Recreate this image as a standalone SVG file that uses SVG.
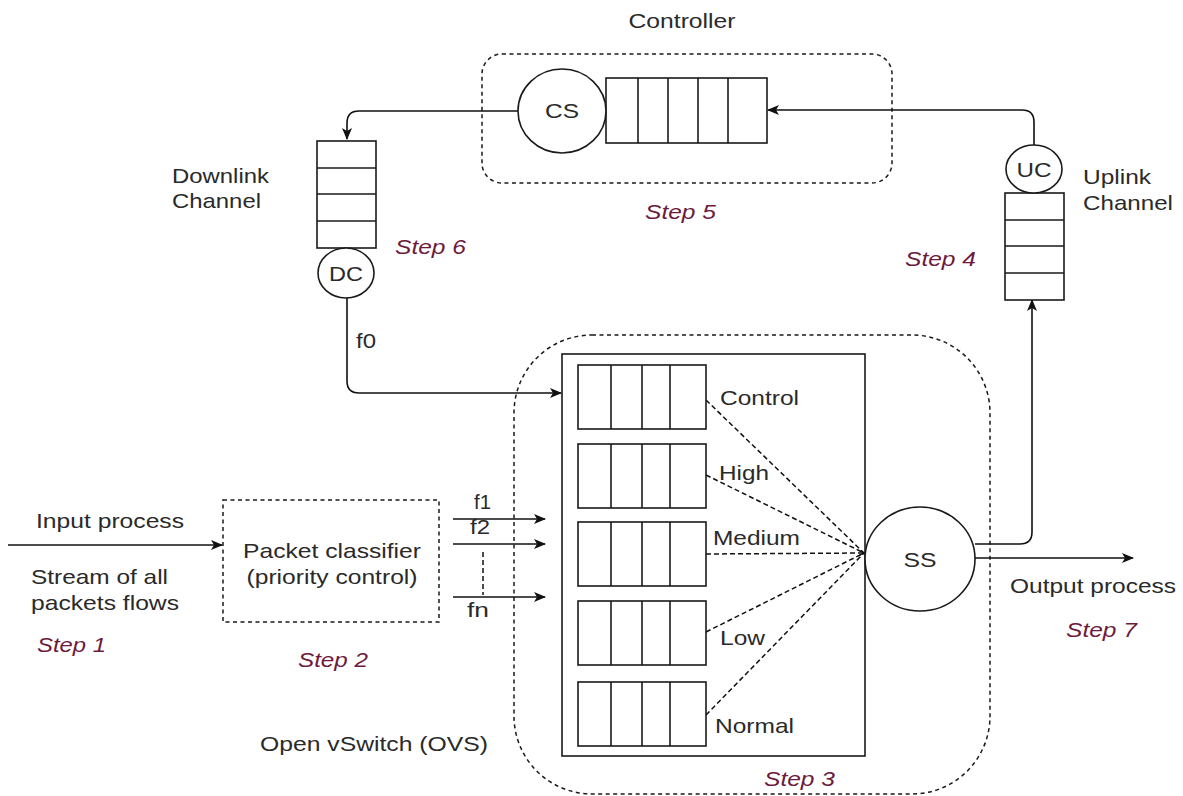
<svg xmlns="http://www.w3.org/2000/svg" width="1183" height="796" viewBox="0 0 1183 796">
  <defs>
    <marker id="arrow" viewBox="0 0 12 10" refX="11" refY="5" markerWidth="12" markerHeight="10" markerUnits="userSpaceOnUse" orient="auto">
      <path d="M0,0 L12,5 L0,10 L3,5 Z" fill="#111"/>
    </marker>
    <marker id="tick" viewBox="0 0 8 8" refX="7" refY="4" markerWidth="8" markerHeight="8" markerUnits="userSpaceOnUse" orient="auto">
      <path d="M1,1 L7,4 L1,7" fill="none" stroke="#111" stroke-width="1.2"/>
    </marker>
    <!-- horizontal queue with four slots -->
    <g id="hq">
      <rect x="0" y="0" width="128" height="64" class="box"/>
      <line x1="33" y1="0" x2="33" y2="64" class="ln"/>
      <line x1="64" y1="0" x2="64" y2="64" class="ln"/>
      <line x1="92" y1="0" x2="92" y2="64" class="ln"/>
    </g>
    <!-- vertical channel queue -->
    <g id="vq">
      <rect x="0" y="0" width="59" height="107" class="box"/>
      <line x1="0" y1="27" x2="59" y2="27" class="ln"/>
      <line x1="0" y1="53" x2="59" y2="53" class="ln"/>
      <line x1="0" y1="80" x2="59" y2="80" class="ln"/>
    </g>
  </defs>
  <style>
    .box { fill: #fff; stroke: #1a1a1a; stroke-width: 1.6; }
    .frame { fill: none; stroke: #1a1a1a; stroke-width: 1.6; }
    .ln { stroke: #1a1a1a; stroke-width: 1.6; }
    .dash { fill: none; stroke: #1a1a1a; stroke-width: 1.5; stroke-dasharray: 4 3.5; }
    .wire { fill: none; stroke: #111; stroke-width: 1.6; }
    .fan { fill: none; stroke: #111; stroke-width: 1.5; stroke-dasharray: 5 3; }
    text { font-family: "Liberation Sans", Arial, sans-serif; font-size: 21px; fill: #2a2a2a; }
    .step { font-style: italic; fill: #6e1a3c; }
    .mid { text-anchor: middle; }
  </style>
  <rect width="1183" height="796" fill="#fff"/>

  <!-- controller -->
  <g id="controller">
    <text x="682" y="28" class="mid" textLength="107" lengthAdjust="spacingAndGlyphs">Controller</text>
    <rect x="482" y="54" width="410" height="129" rx="20" class="dash"/>
    <rect x="606" y="78" width="161" height="65" class="box"/>
    <line x1="638" y1="78" x2="638" y2="143" class="ln"/>
    <line x1="668" y1="78" x2="668" y2="143" class="ln"/>
    <line x1="698" y1="78" x2="698" y2="143" class="ln"/>
    <line x1="728" y1="78" x2="728" y2="143" class="ln"/>
    <text x="645" y="219" class="step" textLength="71" lengthAdjust="spacingAndGlyphs">Step 5</text>
  </g>

  <!-- Open vSwitch -->
  <g id="ovs">
    <rect x="514" y="335" width="476" height="459" rx="78" class="dash"/>
    <rect x="562" y="354" width="303" height="402" class="frame"/>
    <text x="260" y="751" textLength="228" lengthAdjust="spacingAndGlyphs">Open vSwitch (OVS)</text>
    <text x="764" y="786" class="step" textLength="71" lengthAdjust="spacingAndGlyphs">Step 3</text>
  </g>

  <!-- connectors -->
  <g id="connectors">
    <!-- CS to downlink channel -->
    <path class="wire" d="M518,111 H359 Q347,111 347,123 V139" marker-end="url(#arrow)"/>
    <!-- UC to controller queue -->
    <path class="wire" d="M1034,145 V122 Q1034,110 1022,110 H768" marker-end="url(#arrow)"/>
    <!-- DC to control queue (f0) -->
    <path class="wire" d="M347,298 V381 Q347,393 359,393 H561" marker-end="url(#arrow)"/>
    <!-- input stream -->
    <path class="wire" d="M8,545 H222" marker-end="url(#arrow)"/>
    <!-- classified flows -->
    <path class="wire" d="M453,519 H545" marker-end="url(#arrow)"/>
    <path class="wire" d="M453,544 H545" marker-end="url(#arrow)"/>
    <path class="wire" d="M453,597 H545" marker-end="url(#arrow)"/>
    <line x1="483" y1="552" x2="483" y2="595" class="fan"/>
    <!-- SS to uplink channel -->
    <path class="wire" d="M975,544 H1020 Q1032,544 1032,532 V300" marker-end="url(#arrow)"/>
    <!-- output -->
    <path class="wire" d="M975,558 H1133" marker-end="url(#arrow)"/>
    <!-- queues to scheduler -->
    <path class="fan" d="M706,400 L864,553"/>
    <path class="fan" d="M706,475 L864,553"/>
    <path class="fan" d="M706,554 L864,553" marker-end="url(#tick)"/>
    <path class="fan" d="M706,632 L864,553"/>
    <path class="fan" d="M706,715 L864,553"/>
  </g>

  <g id="cs">
    <ellipse cx="562" cy="111" rx="44" ry="42" class="box"/>
    <text x="562" y="118" class="mid" textLength="34" lengthAdjust="spacingAndGlyphs">CS</text>
  </g>

  <!-- downlink channel -->
  <g id="downlink">
    <use href="#vq" x="317" y="141"/>
    <text x="172" y="183" textLength="97" lengthAdjust="spacingAndGlyphs">Downlink</text>
    <text x="172" y="208" textLength="89" lengthAdjust="spacingAndGlyphs">Channel</text>
    <text x="395" y="254" class="step" textLength="71" lengthAdjust="spacingAndGlyphs">Step 6</text>
  </g>
  <g id="dc">
    <ellipse cx="346" cy="273" rx="28" ry="25" class="box"/>
    <text x="346" y="281" class="mid" textLength="34" lengthAdjust="spacingAndGlyphs">DC</text>
    <text x="356" y="348" textLength="20" lengthAdjust="spacingAndGlyphs">f0</text>
  </g>

  <!-- uplink channel -->
  <g id="uplink">
    <use href="#vq" x="1005" y="193"/>
    <text x="1083" y="184" textLength="68" lengthAdjust="spacingAndGlyphs">Uplink</text>
    <text x="1083" y="210" textLength="90" lengthAdjust="spacingAndGlyphs">Channel</text>
    <text x="905" y="266" class="step" textLength="71" lengthAdjust="spacingAndGlyphs">Step 4</text>
  </g>
  <g id="uc">
    <ellipse cx="1034" cy="169" rx="28" ry="24" class="box"/>
    <text x="1034" y="177" class="mid" textLength="35" lengthAdjust="spacingAndGlyphs">UC</text>
  </g>

  <!-- input -->
  <g id="input">
    <text x="36" y="528" textLength="148" lengthAdjust="spacingAndGlyphs">Input process</text>
    <text x="31" y="584" textLength="137" lengthAdjust="spacingAndGlyphs">Stream of all</text>
    <text x="31" y="610" textLength="148" lengthAdjust="spacingAndGlyphs">packets flows</text>
    <text x="37" y="652" class="step" textLength="69" lengthAdjust="spacingAndGlyphs">Step 1</text>
  </g>

  <!-- packet classifier -->
  <g id="classifier">
    <rect x="223" y="500" width="216" height="122" class="dash"/>
    <text x="332" y="558" class="mid" textLength="178" lengthAdjust="spacingAndGlyphs">Packet classifier</text>
    <text x="332" y="584" class="mid" textLength="171" lengthAdjust="spacingAndGlyphs">(priority control)</text>
    <text x="298" y="667" class="step" textLength="70" lengthAdjust="spacingAndGlyphs">Step 2</text>
    <text x="474" y="509" textLength="17" lengthAdjust="spacingAndGlyphs">f1</text>
    <text x="470" y="534" textLength="20" lengthAdjust="spacingAndGlyphs">f2</text>
    <text x="467" y="617" textLength="22" lengthAdjust="spacingAndGlyphs">fn</text>
  </g>

  <g id="q-control">
    <use href="#hq" x="578" y="365"/>
    <text x="720" y="405" textLength="79" lengthAdjust="spacingAndGlyphs">Control</text>
  </g>
  <g id="q-high">
    <use href="#hq" x="578" y="444"/>
    <text x="719" y="480" textLength="50" lengthAdjust="spacingAndGlyphs">High</text>
  </g>
  <g id="q-medium">
    <use href="#hq" x="578" y="522"/>
    <text x="713" y="545" textLength="87" lengthAdjust="spacingAndGlyphs">Medium</text>
  </g>
  <g id="q-low">
    <use href="#hq" x="578" y="601"/>
    <text x="720" y="645" textLength="45" lengthAdjust="spacingAndGlyphs">Low</text>
  </g>
  <g id="q-normal">
    <use href="#hq" x="578" y="682"/>
    <text x="715" y="733" textLength="79" lengthAdjust="spacingAndGlyphs">Normal</text>
  </g>

  <!-- scheduler -->
  <g id="ss">
    <ellipse cx="920" cy="559" rx="55" ry="52" class="box"/>
    <text x="920" y="567" class="mid" textLength="33" lengthAdjust="spacingAndGlyphs">SS</text>
  </g>

  <!-- output -->
  <g id="output">
    <text x="1010" y="593" textLength="166" lengthAdjust="spacingAndGlyphs">Output process</text>
    <text x="1066" y="637" class="step" textLength="71" lengthAdjust="spacingAndGlyphs">Step 7</text>
  </g>
</svg>
